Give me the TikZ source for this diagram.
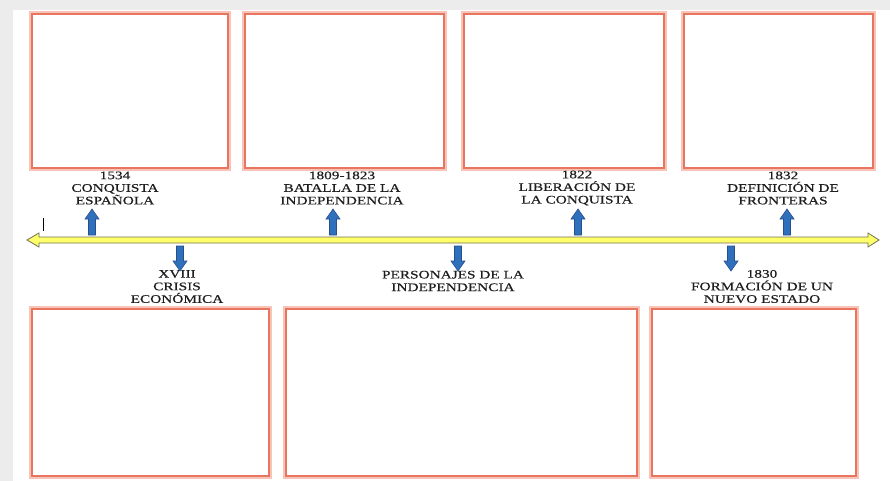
\documentclass[tikz,border=0pt]{standalone}
\usepackage{fontspec}
\setmainfont{Liberation Serif}
\newfontfamily\lblfont[FakeStretch=1.33,FakeBold=0.4]{Liberation Serif}
\usepackage{tikz}
\definecolor{boxline}{RGB}{232,117,96}
\definecolor{boxglow}{RGB}{248,196,184}
\definecolor{arrblue}{RGB}{47,112,188}
\definecolor{arrline}{RGB}{40,78,140}
\definecolor{lineyellow}{RGB}{255,255,105}
\definecolor{lineedge}{RGB}{115,115,85}
\definecolor{pagegray}{RGB}{236,236,236}
\definecolor{textgray}{RGB}{30,30,30}
\tikzset{
  photobox/.style={draw=boxline, line width=2.4pt, fill=white, inner sep=0pt,
    preaction={draw=boxglow, line width=5.5pt}},
  datelabel/.style={align=center, inner sep=0pt, text=textgray,
    font=\lblfont\fontsize{11.5}{12.6}\selectfont},
  blockarr/.style={draw=arrline, fill=arrblue, line width=0.6pt},
}

\begin{document}
\begin{tikzpicture}[x=1pt, y=-1pt]       % linea del tiempo
    \useasboundingbox (0,0) rectangle (890,481);
    \fill[pagegray] (0,0) rectangle (890,481);
    \fill[white] (13,10) rectangle (890,481);

    % cuadros de arriba
    \node[photobox, minimum width=196pt, minimum height=154pt] at (130, 91) (top1) {};
    \node[photobox, minimum width=199pt, minimum height=154pt] at (344.5, 91) (top2) {};
    \node[photobox, minimum width=200pt, minimum height=154pt] at (564, 91) (top3) {};
    \node[photobox, minimum width=189pt, minimum height=154pt] at (778.5, 91) (top4) {};

    % cuadros de abajo
    \node[photobox, minimum width=237pt, minimum height=167pt] at (150.5, 392.5) (bot1) {};
    \node[photobox, minimum width=351pt, minimum height=167pt] at (461.5, 392.5) (bot2) {};
    \node[photobox, minimum width=204pt, minimum height=167pt] at (754, 392.5) (bot3) {};

    % textos
    \node[datelabel] at (115, 188) (conquista) {1534\\CONQUISTA\\ESPAÑOLA};
    \node[datelabel] at (342, 188) (batalla) {1809-1823\\BATALLA DE LA\\INDEPENDENCIA};
    \node[datelabel] at (577, 188) (liberacion) {1822\\LIBERACIÓN DE\\LA CONQUISTA};
    \node[datelabel] at (783, 188) (fronteras) {1832\\DEFINICIÓN DE\\FRONTERAS};
    \node[datelabel] at (177, 286.5) (crisis) {XVIII\\CRISIS\\ECONÓMICA};
    \node[datelabel] at (453, 281) (personajes) {PERSONAJES DE LA\\INDEPENDENCIA};
    \node[datelabel] at (762, 286.5) (estado) {1830\\FORMACIÓN DE UN\\NUEVO ESTADO};

    % linea
    \draw[draw=lineedge, fill=lineyellow, line width=0.8pt]
      (27,240) -- (39,233) -- (39,237) -- (868,237) -- (868,233) -- (879,240)
      -- (868,247) -- (868,243) -- (39,243) -- (39,247) -- cycle;
    \draw[line width=0.6pt] (43,218) -- (43,231);

    % flechas
    \foreach \x in {92,333,578,787}
      \draw[blockarr] (\x-3.5,235) -- (\x-3.5,219) -- (\x-7,219) -- (\x,209)
        -- (\x+7,219) -- (\x+3.5,219) -- (\x+3.5,235) -- cycle;
    \foreach \x in {180,458,731}
      \draw[blockarr] (\x-3.5,246) -- (\x-3.5,261) -- (\x-7,261) -- (\x,271)
        -- (\x+7,261) -- (\x+3.5,261) -- (\x+3.5,246) -- cycle;
  \end{tikzpicture}
\end{document}
